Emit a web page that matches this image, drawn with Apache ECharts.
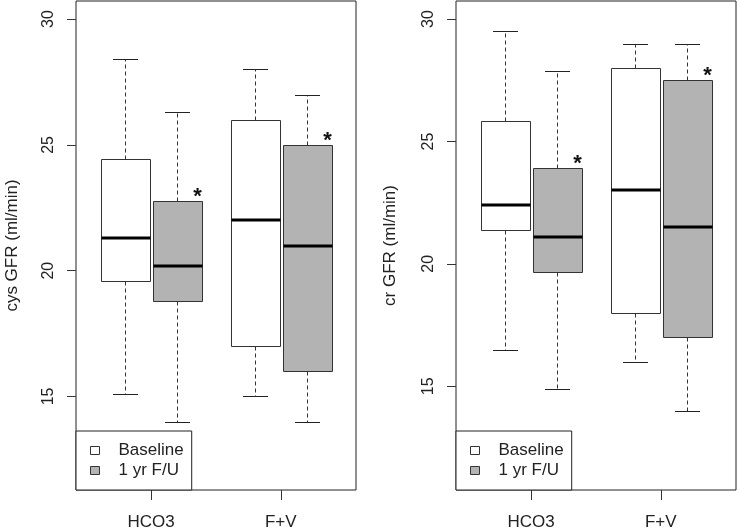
<!DOCTYPE html>
<html><head><meta charset="utf-8">
<script src="https://cdn.jsdelivr.net/npm/echarts@6/dist/echarts.min.js"></script>
<style>html,body{margin:0;padding:0;background:#fff}#c{width:737px;height:531px}</style>
</head><body><div id="c"></div>
<script>
// ---- data ----
const categories = ['HCO3', 'F+V'];
const groupNames = ['Baseline', '1 yr F/U'];
// each box: [lower whisker, Q1, median, Q3, upper whisker]
const cysBaseline = [[15.1, 19.6, 21.3, 24.45, 28.4], [15.0, 17.0, 22.0, 26.0, 28.0]];
const cysFollowUp = [[14.0, 18.8, 20.2, 22.75, 26.3], [14.0, 16.0, 21.0, 25.0, 27.0]];
const crBaseline  = [[16.5, 21.4, 22.4, 25.85, 29.5], [16.0, 18.0, 23.0, 28.0, 29.0]];
const crFollowUp  = [[14.9, 19.65, 21.1, 23.9, 27.9], [14.0, 17.0, 21.5, 27.5, 29.0]];
const followUpMarks = ['*', '*'];
const yTicks = [15, 20, 25, 30];
const yTitles = ['cys GFR (ml/min)', 'cr GFR (ml/min)'];

// ---- styling / layout ----
const FONT = '"Liberation Sans", Arial, sans-serif';
const BOXW = 0.375, OFFSET = 0.2;
const FILLS = ['#ffffff', '#b3b3b3'];
const snap = v => Math.round(v) + 0.5;

function boxSeries(name, values, offset, fill, gi, marks) {
  return {
    type: 'custom', name, xAxisIndex: gi, yAxisIndex: gi,
    itemStyle: { color: fill, borderColor: '#333', borderWidth: 1 },
    encode: { x: 0, y: [1, 2, 3, 4, 5] },
    data: values.map((v, i) => [i + 1 + offset].concat(v)),
    renderItem: (params, api) => {
      const x = api.value(0);
      const mn = api.value(1), q1 = api.value(2), md = api.value(3), q3 = api.value(4), mx = api.value(5);
      const w = api.size([BOXW, 0])[0];
      const cx = snap(api.coord([x, md])[0]);
      const Y = v => api.coord([x, v])[1];
      const l = Math.round(cx - w / 2) + 0.5, r = Math.round(cx + w / 2) + 0.5;
      const yMx = snap(Y(mx)), yQ3 = snap(Y(q3)), yMd = Math.round(Y(md)), yQ1 = snap(Y(q1)), yMn = snap(Y(mn));
      const dash = { stroke: '#333', lineWidth: 1, lineDash: [4, 3] };
      const solid = { stroke: '#222', lineWidth: 1 };
      const children = [
        { type: 'line', shape: { x1: cx, y1: yQ3, x2: cx, y2: yMx }, style: dash },
        { type: 'line', shape: { x1: cx, y1: yQ1, x2: cx, y2: yMn }, style: dash },
        { type: 'line', shape: { x1: Math.round(cx - w / 4), y1: yMx, x2: Math.round(cx + w / 4), y2: yMx }, style: solid },
        { type: 'line', shape: { x1: Math.round(cx - w / 4), y1: yMn, x2: Math.round(cx + w / 4), y2: yMn }, style: solid },
        { type: 'rect', shape: { x: l, y: yQ3, width: r - l, height: yQ1 - yQ3 }, style: { fill: fill, stroke: '#333', lineWidth: 1 } },
        { type: 'line', shape: { x1: l, y1: yMd, x2: r, y2: yMd }, style: { stroke: '#000', lineWidth: 3 } }
      ];
      if (marks && marks[params.dataIndex]) {
        children.push({ type: 'text', style: { text: marks[params.dataIndex], x: r - 5, y: yQ3 - 5,
          fill: '#111', font: 'bold 22px ' + FONT, textAlign: 'center', textVerticalAlign: 'middle' } });
      }
      return { type: 'group', children };
    }
  };
}

const grids = [
  { left: 76, top: 1, width: 280, height: 489 },
  { left: 456, top: 1, width: 280, height: 489 }
];
const yRanges = [[11.28, 30.72], [10.76, 30.74]];
const nameGaps = [55, 57];

const option = {
  backgroundColor: '#fff',
  animation: false,
  textStyle: { fontFamily: FONT },
  grid: grids.map(g => Object.assign({ show: true, borderColor: '#222', borderWidth: 1, backgroundColor: 'transparent' }, g)),
  xAxis: grids.map((g, i) => ({
    type: 'value', gridIndex: i, min: 0.42, max: 2.58,
    splitLine: { show: false }, axisLine: { show: false },
    axisTick: { show: true, length: 10, customValues: [1, 2], lineStyle: { color: '#333' } },
    axisLabel: { customValues: [1, 2], margin: 24, fontSize: 17, color: '#222', fontFamily: FONT,
      formatter: v => categories[Math.round(v) - 1] || '' }
  })),
  yAxis: grids.map((g, i) => ({
    type: 'value', gridIndex: i, min: yRanges[i][0], max: yRanges[i][1],
    splitLine: { show: false }, axisLine: { show: false },
    axisTick: { show: true, length: 9, customValues: yTicks, lineStyle: { color: '#333' } },
    axisLabel: { customValues: yTicks, rotate: 90, margin: 19, fontSize: 16, color: '#222', fontFamily: FONT },
    name: yTitles[i], nameLocation: 'middle', nameGap: nameGaps[i],
    nameTextStyle: { fontSize: 17, color: '#222', fontFamily: FONT }
  })),
  legend: grids.map((g, i) => ({
    left: g.left, bottom: 41, orient: 'vertical', selectedMode: false,
    data: groupNames.map((n, k) => ({ name: n, itemStyle: { color: FILLS[k], borderColor: '#333', borderWidth: 1 } })),
    icon: 'rect', itemWidth: 9, itemHeight: 8, itemGap: 3,
    padding: [11, 8, 11, 14], borderColor: '#222', borderWidth: 1, backgroundColor: '#fff',
    textStyle: { fontSize: 17, color: '#222', fontFamily: FONT, padding: [0, 0, 0, 14] }
  })),
  series: [
    boxSeries(groupNames[0], cysBaseline, -OFFSET, FILLS[0], 0, null),
    boxSeries(groupNames[1], cysFollowUp, OFFSET, FILLS[1], 0, followUpMarks),
    boxSeries(groupNames[0], crBaseline, -OFFSET, FILLS[0], 1, null),
    boxSeries(groupNames[1], crFollowUp, OFFSET, FILLS[1], 1, followUpMarks)
  ]
};
echarts.init(document.getElementById('c'), null, { renderer: 'canvas' }).setOption(option);
</script></body></html>
